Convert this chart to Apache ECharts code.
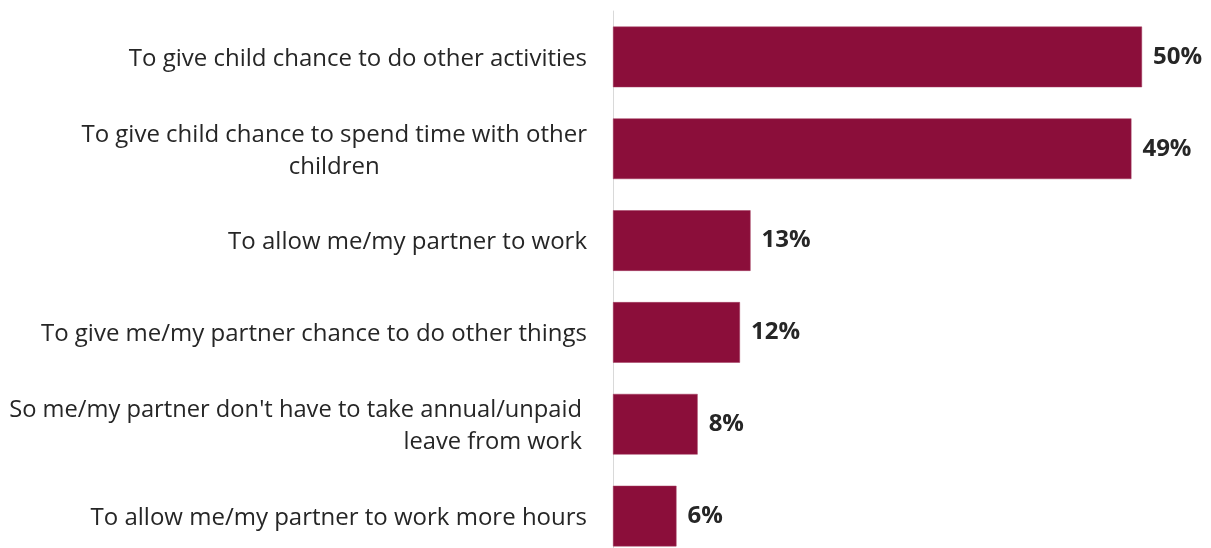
<!DOCTYPE html>
<html>
<head>
<meta charset="utf-8">
<script src="https://cdn.jsdelivr.net/npm/echarts@6/dist/echarts.min.js"></script>
<style>
  html, body { margin: 0; padding: 0; background: #ffffff; }
  #chart { width: 1211px; height: 548px; }
</style>
</head>
<body>
<div id="chart"></div>
<script>
// Reasons given for using childcare, share of parents (%)
const categories = [
  "To give child chance to do other activities",
  "To give child chance to spend time with other\nchildren",
  "To allow me/my partner to work",
  "To give me/my partner chance to do other things",
  "So me/my partner don't have to take annual/unpaid\nleave from work",
  "To allow me/my partner to work more hours"
];
const values = [50, 49, 13, 12, 8, 6];
// Labels whose lines are centred on each other rather than right-aligned
const centredLabels = [1];
// Labels set slightly further in from the axis
const insetLabels = [4];

const labelFont = { fontFamily: 'Open Sans', fontSize: 24, color: '#262626', lineHeight: 32 };

const chart = echarts.init(document.getElementById('chart'), null, { renderer: 'canvas' });

function wrapLines(value, style) {
  return value.split('\n').map(function (s) { return '{' + style + '|' + s + '}'; }).join('\n');
}

chart.setOption({
  animation: false,
  backgroundColor: '#ffffff',
  grid: {
    left: 613, top: 11, width: 529, height: 551,
    containLabel: false,
    outerBoundsMode: 'none'
  },
  xAxis: {
    type: 'value',
    min: 0,
    max: 50,
    show: false
  },
  yAxis: {
    type: 'category',
    inverse: true,
    data: categories,
    axisLine: { show: true, lineStyle: { color: '#d9d9d9', width: 1 } },
    axisTick: { show: false },
    axisLabel: Object.assign({
      margin: 26,
      align: 'right',
      padding: [4, 0, 0, 0],
      formatter: function (value, idx) {
        if (centredLabels.indexOf(idx) >= 0) return wrapLines(value, 'c');
        if (insetLabels.indexOf(idx) >= 0) return wrapLines(value, 'r');
        return value;
      },
      rich: {
        c: Object.assign({ align: 'center' }, labelFont),
        r: Object.assign({}, labelFont, { align: 'right', fontSize: 23.7, padding: [0, 5, 0, 0] })
      }
    }, labelFont)
  },
  series: [{
    type: 'bar',
    data: values,
    barCategoryGap: '34%',
    itemStyle: { color: '#8b0e3a', borderColor: '#a23a5e', borderWidth: 0.5 },
    label: {
      show: true,
      position: 'right',
      distance: 11,
      formatter: '{c}%',
      fontFamily: 'Open Sans',
      fontWeight: 'bold',
      fontSize: 24,
      color: '#262626'
    }
  }]
});
</script>
</body>
</html>
